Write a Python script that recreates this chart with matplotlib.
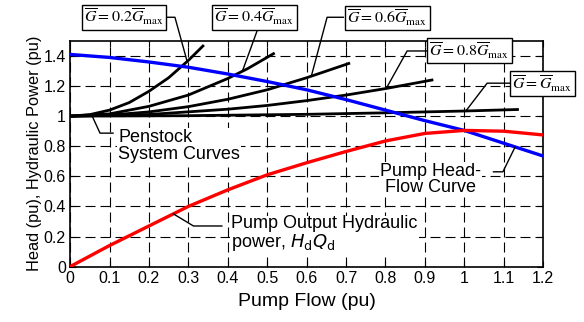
import numpy as np
import matplotlib.pyplot as plt
from matplotlib.ticker import MultipleLocator, FuncFormatter

plt.rcParams['font.family'] = ['Liberation Sans', 'DejaVu Sans']

# Pump head-flow curve (blue)
q_pump = [0, 0.1, 0.2, 0.3, 0.4, 0.5, 0.6, 0.7, 0.8, 0.9, 1.0, 1.1, 1.2]
h_pump = [1.41, 1.39, 1.36, 1.325, 1.28, 1.23, 1.175, 1.11, 1.04, 0.97, 0.905, 0.82, 0.735]

# Pump output hydraulic power (red)
p_pump = [0, 0.14, 0.27, 0.40, 0.51, 0.61, 0.69, 0.765, 0.835, 0.885, 0.905, 0.90, 0.875]

# Penstock system curves (black)
q_g02 = [0, 0.05, 0.1, 0.15, 0.2, 0.25, 0.3, 0.337]
h_g02 = [1.0, 1.01, 1.04, 1.09, 1.165, 1.255, 1.37, 1.466]
q_g04 = [0, 0.1, 0.2, 0.3, 0.4, 0.45, 0.516]
h_g04 = [1.0, 1.015, 1.065, 1.14, 1.25, 1.315, 1.415]
q_g06 = [0, 0.1, 0.2, 0.3, 0.4, 0.5, 0.6, 0.707]
h_g06 = [1.0, 1.007, 1.028, 1.063, 1.112, 1.175, 1.255, 1.35]
q_g08 = [0, 0.2, 0.4, 0.5, 0.6, 0.7, 0.8, 0.918]
h_g08 = [1.0, 1.011, 1.046, 1.071, 1.103, 1.14, 1.183, 1.24]
q_g10 = [0, 0.3, 0.6, 0.8, 1.0, 1.135]
h_g10 = [1.0, 1.003, 1.012, 1.022, 1.034, 1.044]

g_labels = [r'$\overline{G} = 0.2\overline{G}_{\mathrm{max}}$',
            r'$\overline{G} = 0.4\overline{G}_{\mathrm{max}}$',
            r'$\overline{G} = 0.6\overline{G}_{\mathrm{max}}$',
            r'$\overline{G} = 0.8\overline{G}_{\mathrm{max}}$',
            r'$\overline{G} = \overline{G}_{\mathrm{max}}$']

fig = plt.figure(figsize=(5.84, 3.22), dpi=100)
ax = fig.add_axes([0.12, 0.172, 0.81, 0.701])

ax.set_xlim(0, 1.2)
ax.set_ylim(0, 1.5)
ax.xaxis.set_major_locator(MultipleLocator(0.1))
ax.yaxis.set_major_locator(MultipleLocator(0.2))
fmt = FuncFormatter(lambda v, p: '%g' % round(v, 2))
ax.xaxis.set_major_formatter(fmt)
ax.yaxis.set_major_formatter(fmt)
ax.tick_params(direction='in', length=4, width=0.8, labelsize=11.5, pad=3,
               top=True, right=True, colors='black')
ax.grid(True, color='black', linestyle=(0, (9, 4.5)), linewidth=0.8)
for s in ax.spines.values():
    s.set_linewidth(1.2)

ax.set_xlabel('Pump Flow (pu)', fontsize=14, labelpad=5)
ax.set_ylabel('Head (pu), Hydraulic Power (pu)', fontsize=11.8, labelpad=1)

sys_curves = [(q_g02, h_g02), (q_g04, h_g04), (q_g06, h_g06), (q_g08, h_g08), (q_g10, h_g10)]
for q, h in sys_curves:
    ax.plot(q, h, color='black', lw=2.0, zorder=3)
ax.plot(q_pump, h_pump, color='#0000ff', lw=2.4, zorder=4)
ax.plot(q_pump, p_pump, color='#ff0000', lw=2.4, zorder=4)

# labels for system curves: (box centre, leader start, elbow, curve x)
g_boxes = [((0.137, 1.657), (0.246, 1.657), (0.266, 1.657), 0.297),
           ((0.467, 1.657), (0.475, 1.571), (0.475, 1.571), 0.437),
           ((0.805, 1.652), (0.693, 1.657), (0.652, 1.657), 0.612),
           ((1.013, 1.435), (0.904, 1.433), (0.855, 1.433), 0.802),
           ((1.198, 1.217), (1.117, 1.219), (1.058, 1.219), 1.004)]
for (q, h), lab, (c, s0, s1, xe) in zip(sys_curves, g_labels, g_boxes):
    ye = np.interp(xe, q, h)
    ax.plot([s0[0], s1[0], xe], [s0[1], s1[1], ye], color='black', lw=1.0,
            clip_on=False, zorder=5)
    ax.text(c[0], c[1], lab, ha='center', va='center', fontsize=11.5,
            math_fontfamily='stix', clip_on=False, zorder=6,
            bbox=dict(boxstyle='square,pad=0.15', fc='white', ec='black', lw=1.0))

# Penstock label
ye = np.interp(0.056, q_g10, h_g10)
ax.plot([0.056, 0.076, 0.109], [ye, 0.887, 0.887], color='black', lw=1.0, zorder=5)
ax.text(0.122, 0.802, 'Penstock\nSystem Curves', ha='left', va='center',
        fontsize=13, linespacing=0.95, zorder=6,
        bbox=dict(boxstyle='square,pad=0.05', fc='white', ec='none'))

# Pump head label
ye = np.interp(1.129, q_pump, h_pump)
ax.plot([1.074, 1.098, 1.129], [0.630, 0.630, ye], color='black', lw=1.0, zorder=5)
ax.text(0.914, 0.581, 'Pump Head-\nFlow Curve', ha='center', va='center',
        fontsize=13, linespacing=0.95, zorder=6,
        bbox=dict(boxstyle='square,pad=0.05', fc='white', ec='none'))

# Pump output label
ye = np.interp(0.262, q_pump, p_pump)
ax.plot([0.385, 0.313, 0.262], [0.27, 0.27, ye], color='black', lw=1.0, zorder=5)
ax.text(0.409, 0.217, 'Pump Output Hydraulic\npower, $H_{\\mathrm{d}}Q_{\\mathrm{d}}$',
        ha='left', va='center', fontsize=13, linespacing=0.95, zorder=6,
        math_fontfamily='dejavusans',
        bbox=dict(boxstyle='square,pad=0.05', fc='white', ec='none'))

fig.savefig('out.png', dpi=100)
